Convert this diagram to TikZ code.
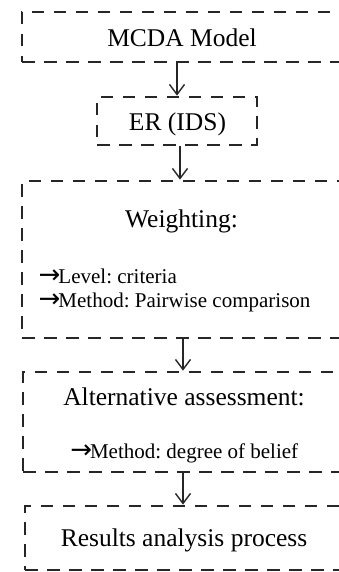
\documentclass[tikz,border=0pt]{standalone}
\usepackage{fontspec}
\setmainfont{Liberation Serif}
\newfontfamily\arrowfont{DejaVu Sans}
\newcommand\rarr{{\arrowfont\fontsize{26}{24}\selectfont\kern-1.5pt→\kern-2pt}}
\usetikzlibrary{arrows.meta}
\tikzset{
  box/.style={draw=black!85, line width=2.8pt, dash pattern=on 12.5pt off 9.5pt, rectangle, inner sep=0pt},
  big/.style={font=\fontsize{25.5}{30}\selectfont\frenchspacing, inner sep=0pt, anchor=base},
  small/.style={font=\fontsize{21}{24}\selectfont\frenchspacing, inner sep=0pt, anchor=base west},
  smallc/.style={font=\fontsize{21}{24}\selectfont\frenchspacing, inner sep=0pt, anchor=base},
  arr/.style={draw=black!85, line width=1.4pt, -{Straight Barb[length=10pt,width=15pt,line width=1.4pt]}}
}
\begin{document}
\begin{tikzpicture}[x=1pt,y=-1pt]
\useasboundingbox (0,0) rectangle (339,572);
\clip (0,0) rectangle (339,572);
% boxes
\node[box, minimum width=338pt, minimum height=50pt] (b1) at (191,37) {};
\node[box, minimum width=160pt, minimum height=48pt] (b2) at (177,121) {};
\node[box, minimum width=338pt, minimum height=157pt] (b3) at (191,259.5) {};
\node[box, minimum width=336pt, minimum height=100pt] (b4) at (191,422) {};
\node[box, minimum width=334pt, minimum height=64pt] (b5) at (192,538) {};
% texts
\node[big] (t1) at (182,46.5) {MCDA Model};
\node[big] (t2) at (177.5,131) {ER (IDS)};
\node[big] (t3) at (181.5,227) {Weighting:};
\node[small] (t3a) at (40,283) {\rarr Level: criteria};
\node[small] (t3b) at (40,307) {\rarr Method: Pairwise comparison};
\node[big] (t4) at (184,405) {Alternative assessment:};
\node[smallc] (t4a) at (185,458) {\rarr Method: degree of belief};
\node[big] (t5) at (184,546) {Results analysis process};
% arrows
\draw[arr] (b1.south -| 177,0) -- (b2.north -| 177,0);
\draw[arr] (b2.south -| 180,0) -- (b3.north -| 180,0);
\draw[arr] (b3.south -| 183,0) -- (b4.north -| 183,0);
\draw[arr] (b4.south -| 183,0) -- (b5.north -| 183,0);
\end{tikzpicture}
\end{document}
